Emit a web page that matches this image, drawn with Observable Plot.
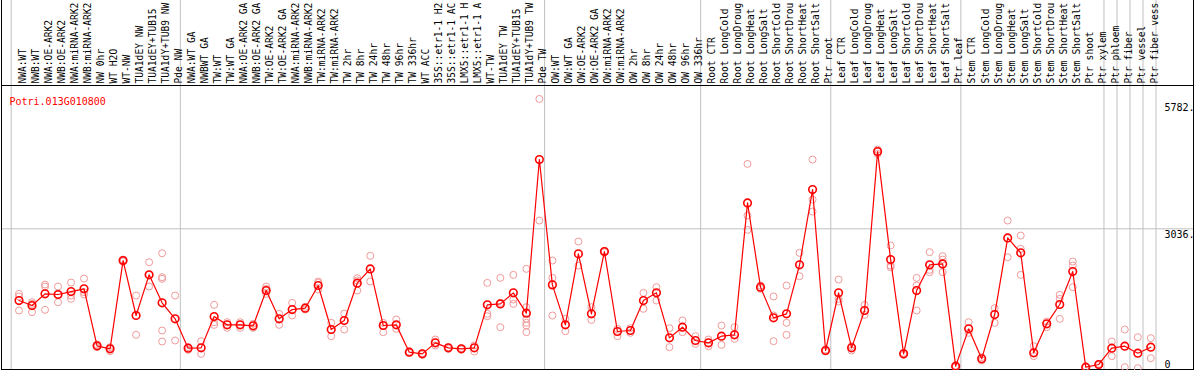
<!DOCTYPE html>
<html><head><meta charset="utf-8">
<script src="https://cdn.jsdelivr.net/npm/d3@7"></script>
<script src="https://cdn.jsdelivr.net/npm/@observablehq/plot@0.6"></script>
<style>body{margin:0;background:#fff}</style>
</head><body><div id="chart"></div>
<script>
const geneName = "Potri.013G010800";

const categories = [
  "NWA:WT","NWB:WT","NWA:OE-ARK2","NWB:OE-ARK2","NWA:miRNA-ARK2","NWB:miRNA-ARK2","NW 0hr","WT H2O","WT-NW","TUA1dEY NW","TUA1dEY+TUB15","TUA1dY+TUB9 NW","Pde NW",
  "NWA:WT GA","NWBWT GA","TW:WT","TW:WT GA","NWA:OE-ARK2 GA","NWB:OE-ARK2 GA","TW:OE-ARK2","TW:OE-ARK2 GA","NWA:miRNA-ARK2","NWB:miRNA-ARK2","TW:miRNA-ARK2","TW:miRNA-ARK2","TW 2hr","TW 8hr","TW 24hr","TW 48hr","TW 96hr","TW 336hr","WT ACC","35S::etr1-1 H2","35S::etr1-1 AC","LMX5::etr1-1 H","LMX5::etr1-1 A","WT-TW","TUA1dEY TW","TUA1dEY+TUB15","TUA1dY+TUB9 TW","Pde TW",
  "OW:WT","OW:WT GA","OW:OE-ARK2","OW:OE-ARK2 GA","OW:miRNA-ARK2","OW:miRNA-ARK2","OW 2hr","OW 8hr","OW 24hr","OW 48hr","OW 96hr","OW 336hr",
  "Root CTR","Root LongCold","Root LongDroug","Root LongHeat","Root LongSalt","Root ShortCold","Root ShortDrou","Root ShortHeat","Root ShortSalt","Ptr root",
  "Leaf CTR","Leaf LongCold","Leaf LongDroug","Leaf LongHeat","Leaf LongSalt","Leaf ShortCold","Leaf ShortDrou","Leaf ShortHeat","Leaf ShortSalt","Ptr leaf",
  "Stem CTR","Stem LongCold","Stem LongDroug","Stem LongHeat","Stem LongSalt","Stem ShortCold","Stem ShortDrou","Stem ShortHeat","Stem ShortSalt","Ptr shoot","Ptr xylem",
  "Ptr phloem","Ptr fiber","Ptr vessel","Ptr fiber vess"
];

const groupSizes = [13, 28, 12, 10, 10, 11, 1, 1, 1, 1];

const means = [
  1488,1380,1632,1618,1682,1740,510,446,2351,1165,2042,1438,1093,
  460,467,1143,963,963,942,1704,1093,1294,1323,1812,863,1057,1862,2171,949,963,374,338,575,467,446,467,1395,1416,1654,1215,4530,
  1826,963,2495,1201,2545,820,841,1488,1654,683,913,626,
  575,719,748,3595,1776,1114,1201,2258,3883,410,
  1654,467,1273,4702,2373,338,1704,2258,2279,72,
  877,230,1186,2840,2517,360,985,1402,2114,50,108,
  460,503,352,481
];

const replicates = [
  [1632,1575,1273],[1452,1416,1237],[1833,1790,1287],[1790,1618,1452],[1877,1596,1524],[1963,1668,1618],[539,496,482],[482,446,395],[2373,2351,2330],[1596,748],[2315,2042,1790],[2509,1992,1956,841,604],[1596,626],
  [482,424],[611,338],[1395,1021,963],[1021,899],[1021,899],[985,899],[1790,1740,1632],[1201,963],[1438,1165],[1352,1294],[1898,1869,1726],[1007,719],[1208,863],[1970,1920,1704],[2452,1898],[1007,949,805],[1079,877],[388,360],[316,352],[647,518],[482,446],[460,431],[518,388],[1869,1201,1150],[1977,1438,913],[2042,1510,1416],[2171,1345,1093,1007,949,805],[5838,3214],
  [2351,1977,1165],[1093,827],[2761,2243],[1345,1071],[2560,2530],[877,719],[892,791],[1654,1309],[1776,1488],[892,482],[1057,805],[719,554],
  [647,503],[949,532],[913,662],[4436,3322,3013],[1812,1740],[1575,1165,611],[1812,1007,748],[2517,2013],[4530,3667,3408],[431,388],
  [1941,1524,1467],[503,410],[1395,1179],[4745,4702,4652],[2675,2243,2207],[360,316],[1977,1812,1273],[2531,2150,2100],[2445,2372,2100],[86,50],
  [1021,791],[266,194],[1323,1007],[3214,2423],[2890,2603,2042],[503,288],[1035,913],[1611,1524,1093],[2330,2243,1776],[58,43],[122,94],
  [604,288],[863,50],[697,28],[676,244]
];

const gridValues = [3036];
const yTickValues = [5782, 3036, 0];
const yTickLabels = ["5782.", "3036.", "0"];

const boundaries = [0, ...d3.cumsum(groupSizes)];
const meanData = categories.map((c, i) => ({i, c, v: means[i]}));
const repData = categories.flatMap((c, i) => replicates[i].map(v => ({i, c, v})));
const ticks = yTickValues.map((v, k) => ({v, label: yTickLabels[k]}));
const pos = d => d.i + 0.6;

const chart = Plot.plot({
  width: 1194,
  height: 370,
  marginTop: 85,
  marginBottom: 1,
  marginLeft: 1,
  marginRight: 1,
  x: {domain: [0, categories.length], range: [10.7, 1155.5], axis: null},
  y: {domain: [0, 6128], axis: null},
  style: {fontFamily: "'DejaVu Sans Mono', monospace", fontSize: "10px", background: "#fff", color: "#000"},
  marks: [
    Plot.ruleY(gridValues, {stroke: "#c0c0c0", strokeOpacity: 1}),
    Plot.ruleX(boundaries, {stroke: "#c0c0c0", strokeOpacity: 1, insetTop: -90}),
    Plot.frame({stroke: "#000"}),
    Plot.frame({stroke: "#000", insetTop: -90}),
    Plot.text(categories, {x: (d, i) => i + 0.6, frameAnchor: "top", rotate: -90, textAnchor: "start", dy: -2, fill: "#000", fontSize: 9.6}),
    Plot.dot(repData, {x: pos, y: "v", r: 3.5, stroke: "#f09a9a", strokeWidth: 1}),
    Plot.line(meanData, {x: pos, y: "v", stroke: "#ff0000", strokeWidth: 1.2}),
    Plot.dot(meanData, {x: pos, y: "v", r: 3.8, stroke: "#ff0000", strokeWidth: 1.6}),
    Plot.text([geneName], {frameAnchor: "top-left", dx: 8, dy: 12, fill: "#ff0000", textAnchor: "start"}),
    Plot.text(ticks.filter(t => t.v > 0), {y: "v", text: "label", frameAnchor: "right", dx: -29, textAnchor: "start", lineAnchor: "top", dy: 2, fill: "#000"}),
    Plot.text(ticks.filter(t => t.v === 0), {y: "v", text: "label", frameAnchor: "right", dx: -29, textAnchor: "start", lineAnchor: "bottom", dy: -2, fill: "#000"})
  ]
});
document.getElementById("chart").appendChild(chart);
</script>
</body></html>
